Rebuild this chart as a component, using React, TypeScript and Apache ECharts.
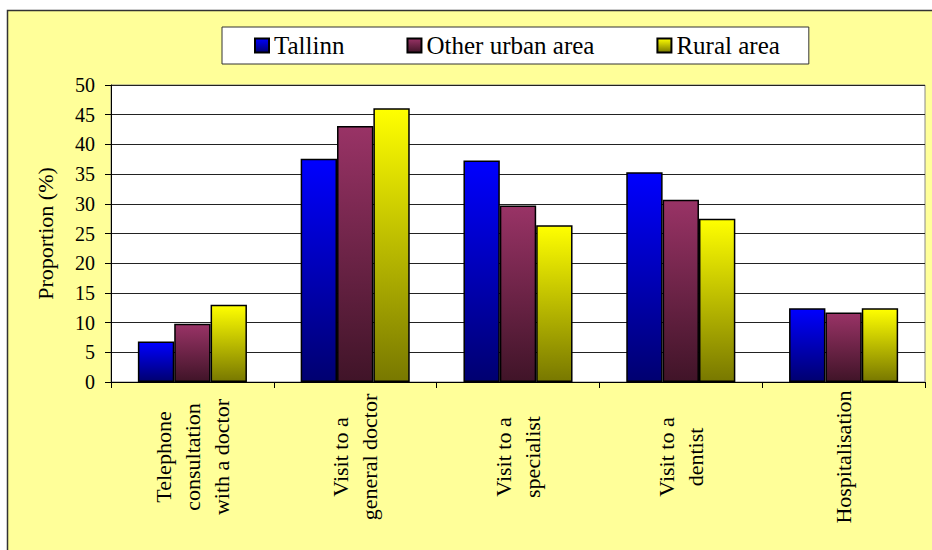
import React, { useEffect, useRef } from "react";
import * as echarts from "echarts";

const categories = [
  "Telephone\nconsultation\nwith a doctor",
  "Visit to a\ngeneral doctor",
  "Visit to a\nspecialist",
  "Visit to a\ndentist",
  "Hospitalisation",
];
const seriesNames = ["Tallinn", "Other urban area", "Rural area"];
const tallinn = [6.8, 37.6, 37.3, 35.3, 12.4];
const otherUrban = [9.8, 43.1, 29.7, 30.7, 11.7];
const rural = [13.0, 46.1, 26.4, 27.5, 12.4];
const yTicks = { min: 0, max: 50, interval: 5 };

const FONT = "Liberation Serif";

function grad(top: string, bottom: string) {
  return new echarts.graphic.LinearGradient(0, 0, 0, 1, [
    { offset: 0, color: top },
    { offset: 1, color: bottom },
  ]);
}

export default function App() {
  const ref = useRef<HTMLDivElement>(null);
  useEffect(() => {
    if (!ref.current) return;
    const chart = echarts.init(ref.current, undefined, { renderer: "svg" });
    const colors = [
      ["#0000FF", "#000070"],
      ["#993366", "#401428"],
      ["#FFFF00", "#787800"],
    ];
    const data = [tallinn, otherUrban, rural];
    chart.setOption({
      animation: false,
      backgroundColor: "#ffffff",
      textStyle: { fontFamily: FONT, color: "#000" },
      graphic: [
        {
          type: "rect",
          z: -10,
          silent: true,
          shape: { x: 7.5, y: 10.5, width: 940, height: 560 },
          style: { fill: "#FFFF99", stroke: "#333", lineWidth: 1.5 },
        },
      ],
      legend: {
        left: 222,
        top: 27,
        padding: [6, 29, 6, 32],
        backgroundColor: "#ffffff",
        borderColor: "#333",
        borderWidth: 1,
        icon: "rect",
        itemWidth: 14,
        itemHeight: 14,
        itemGap: 62,
        textStyle: { fontFamily: FONT, fontSize: 25, color: "#000" },
        data: seriesNames,
      },
      grid: {
        left: 111,
        right: 7,
        top: 85,
        bottom: 168,
        show: true,
        backgroundColor: "#ffffff",
        borderColor: "#888",
        borderWidth: 1,
        containLabel: false,
      },
      xAxis: {
        type: "category",
        data: categories,
        axisLine: { lineStyle: { color: "#000", width: 1 } },
        axisTick: { show: true, length: 6, lineStyle: { color: "#000" } },
        axisLabel: {
          interval: 0,
          rotate: 90,
          align: "center",
          verticalAlign: "middle",
          margin: 75,
          fontFamily: FONT,
          fontSize: 22,
          lineHeight: 29,
          color: "#000",
        },
      },
      yAxis: {
        type: "value",
        min: yTicks.min,
        max: yTicks.max,
        interval: yTicks.interval,
        name: "Proportion (%)",
        nameLocation: "middle",
        nameGap: 55,
        nameTextStyle: { fontFamily: FONT, fontSize: 22, color: "#000" },
        axisLine: { show: true, lineStyle: { color: "#000", width: 1 } },
        axisTick: { show: true, length: 6, lineStyle: { color: "#000" } },
        axisLabel: { fontFamily: FONT, fontSize: 20, color: "#000", margin: 16 },
        splitLine: { show: true, lineStyle: { color: "#222", width: 1 } },
      },
      series: seriesNames.map((name, i) => ({
        name,
        type: "bar",
        data: data[i],
        barGap: "0%",
        barCategoryGap: "33%",
        itemStyle: {
          color: grad(colors[i][0], colors[i][1]),
          borderColor: "#000",
          borderWidth: 1.5,
        },
      })),
    });
    return () => chart.dispose();
  }, []);
  return (
    <div
      ref={ref}
      style={{ position: "fixed", left: 0, top: 0, width: 932, height: 550 }}
    />
  );
}
